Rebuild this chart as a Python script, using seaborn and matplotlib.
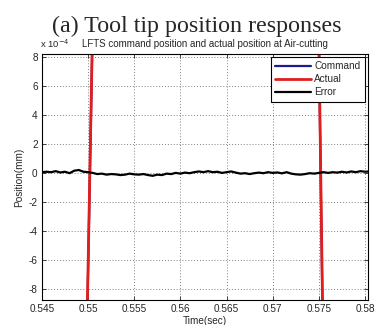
import numpy as np
import pandas as pd
import matplotlib
matplotlib.use("Agg")
import matplotlib.pyplot as plt
import matplotlib.ticker as mticker
import seaborn as sns

# ---------------------------------------------------------------------------
# Data (position in units of 1e-4 mm, time in sec)
# ---------------------------------------------------------------------------
SCALE = 1e-4

# command / actual pass through the window as two steep segments
cmd_time = [0.54994, 0.55047, 0.57499, 0.57538]
cmd_pos = [-9.0, 9.0, 9.0, -9.0]
cmd_seg = [0, 0, 1, 1]

act_time = [0.54993, 0.55046, 0.57500, 0.57539]
act_pos = [-9.0, 9.0, 9.0, -9.0]
act_seg = [0, 0, 1, 1]

err_time = np.round(np.arange(0.545, 0.58051, 0.0005), 4)
err_pos = [
    0.05, 0.08, 0.05, 0.12, 0.03, 0.08, -0.02, 0.15, 0.20, 0.08,
    0.05, 0.00, -0.08, -0.05, -0.12, -0.08, -0.10, -0.15, -0.12, -0.05,
    -0.10, -0.12, -0.08, -0.15, -0.20, -0.12, -0.15, -0.05, -0.08, 0.00,
    -0.05, 0.02, -0.02, 0.05, 0.10, 0.05, 0.12, 0.05, 0.08, 0.00,
    0.05, 0.10, 0.02, -0.05, -0.02, -0.08, -0.02, 0.02, -0.02, 0.05,
    0.00, 0.03, -0.03, 0.05, -0.05, -0.10, -0.12, -0.08, -0.02, -0.05,
    0.00, 0.05, 0.00, 0.05, 0.02, 0.08, 0.03, 0.10, 0.05, 0.12,
    0.08, 0.10,
]

x_ticks = [0.545, 0.55, 0.555, 0.56, 0.565, 0.57, 0.575, 0.58]
x_tick_labels = ["0.545", "0.55", "0.555", "0.56", "0.565", "0.57", "0.575", "0.58"]
y_ticks = [-8, -6, -4, -2, 0, 2, 4, 6, 8]

df = pd.concat([
    pd.DataFrame({"t": cmd_time, "pos": np.array(cmd_pos) * SCALE,
                  "seg": cmd_seg, "signal": "Command"}),
    pd.DataFrame({"t": act_time, "pos": np.array(act_pos) * SCALE,
                  "seg": act_seg, "signal": "Actual"}),
    pd.DataFrame({"t": err_time, "pos": np.array(err_pos) * SCALE,
                  "seg": 0, "signal": "Error"}),
], ignore_index=True)

palette = {"Command": "#1c1c8c", "Actual": "#e01e1e", "Error": "#000000"}

# ---------------------------------------------------------------------------
# Plot
# ---------------------------------------------------------------------------
sns.set_style("white")
plt.rcParams["font.family"] = ["Liberation Sans", "DejaVu Sans"]

fig = plt.figure(figsize=(3.84, 3.25), dpi=100)
ax = fig.add_axes([0.109, 0.077, 0.849, 0.757])

sns.lineplot(data=df, x="t", y="pos", hue="signal", units="seg",
             estimator=None, palette=palette, linewidth=1.6,
             hue_order=["Command", "Actual", "Error"], sort=False, ax=ax)
for ln in ax.get_lines():
    if ln.get_color() == palette["Actual"]:
        ln.set_linewidth(2.0)

ax.set_xlim(0.545, 0.5803)
ax.set_ylim(-8.76 * SCALE, 8.2 * SCALE)
ax.set_xticks(x_ticks)
ax.set_xticklabels(x_tick_labels)
ax.set_yticks([v * SCALE for v in y_ticks])
ax.yaxis.set_major_formatter(mticker.FuncFormatter(lambda v, p: f"{v / SCALE:.0f}"))

ax.grid(True, color="#808080", linestyle=(0, (1, 2)), linewidth=0.7)
for s in ax.spines.values():
    s.set_color("black")
    s.set_linewidth(0.8)
ax.tick_params(direction="in", length=3, width=0.6, labelsize=7.2,
               top=True, right=True, bottom=True, left=True, pad=3)

ax.set_xlabel("Time(sec)", fontsize=7.2, labelpad=1)
ax.set_ylabel("Position(mm)", fontsize=7.2, labelpad=3)
ax.set_title("LFTS command position and actual position at Air-cutting",
             fontsize=7.0, pad=5)
ax.text(-0.005, 1.015, r"x 10$^{-4}$", transform=ax.transAxes, fontsize=6.8,
        ha="left", va="bottom")

fig.text(0.513, 0.92, "(a) Tool tip position responses", ha="center",
         va="center", fontsize=17.3, family=["Liberation Serif", "DejaVu Serif"])

leg = ax.legend(loc="upper right", fontsize=7.2, frameon=True, fancybox=False,
                edgecolor="black", framealpha=1, handlelength=3.6,
                borderpad=0.45, labelspacing=0.3, handletextpad=0.3,
                borderaxespad=0.3)
leg.get_frame().set_linewidth(0.8)

fig.savefig("out.png", dpi=100, facecolor="white")
